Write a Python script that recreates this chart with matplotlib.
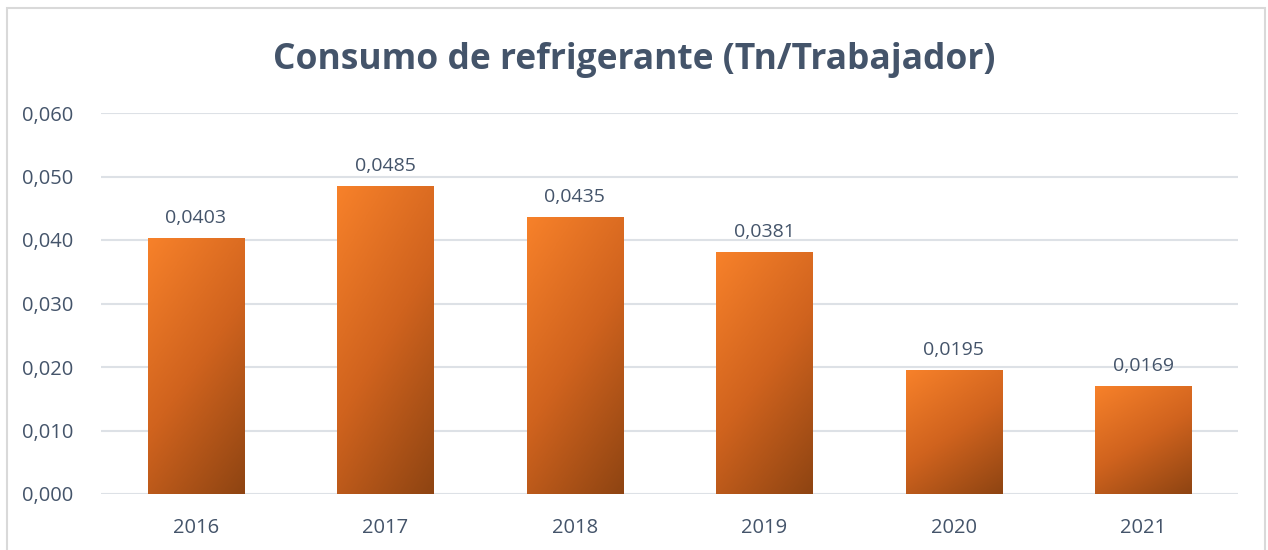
import numpy as np
import matplotlib
matplotlib.use("Agg")
import matplotlib.pyplot as plt
from matplotlib.colors import LinearSegmentedColormap
from matplotlib.patches import Rectangle

years = ["2016", "2017", "2018", "2019", "2020", "2021"]
values = [0.0403, 0.0485, 0.0435, 0.0381, 0.0195, 0.0169]
yticks = [0.0, 0.01, 0.02, 0.03, 0.04, 0.05, 0.06]

TEXT = "#44546A"
GRID = "#DDE1E6"
cmap = LinearSegmentedColormap.from_list("naranja", ["#F7812A", "#D0631E", "#8E4412"])

plt.rcParams["font.family"] = ["Open Sans", "DejaVu Sans"]

fig = plt.figure(figsize=(12.68, 5.5), dpi=100)
ax = fig.add_axes([101 / 1268, 56 / 550, 1137 / 1268, 381 / 550])

# marco del grafico
fig.patches.append(Rectangle((7 / 1268, -0.1), 1258 / 1268, 1.1 - 8 / 550,
                             transform=fig.transFigure, fill=False,
                             edgecolor="#D9D9D9", linewidth=1.5))

x = np.arange(len(years))
width = 0.507
bars = ax.bar(x, values, width=width, color="none", zorder=2)

# degradado diagonal dentro de cada barra (claro arriba-izq, oscuro abajo-der)
gx, gy = np.meshgrid(np.linspace(0, 1, 100), np.linspace(0, 1, 200))
grad = 0.35 * gx + 0.65 * gy
for b in bars:
    x0, y0 = b.get_x(), b.get_y()
    w, h = b.get_width(), b.get_height()
    ax.imshow(grad, cmap=cmap, extent=(x0, x0 + w, y0, y0 + h), origin="upper",
              aspect="auto", zorder=2, interpolation="bilinear")

for xi, v in zip(x, values):
    ax.text(xi, v + 0.0018, f"{v:.4f}".replace(".", ","), ha="center", va="bottom",
            fontsize=14, color=TEXT)

ax.set_xlim(-0.5, len(years) - 0.5)
ax.set_ylim(0, 0.06)
ax.set_yticks(yticks)
ax.set_yticklabels([f"{t:.3f}".replace(".", ",") for t in yticks])
ax.set_xticks(x)
ax.set_xticklabels(years)
ax.tick_params(length=0, labelsize=14.5, labelcolor=TEXT)
ax.tick_params(axis="y", pad=20)
ax.tick_params(axis="x", pad=17)
ax.grid(axis="y", color=GRID, linewidth=1.5, zorder=0)
ax.set_axisbelow(True)
for s in ax.spines.values():
    s.set_visible(False)

fig.text(0.5, 1 - 60 / 550, "Consumo de refrigerante (Tn/Trabajador)", ha="center",
         va="center", fontsize=25.5, fontweight="bold", color=TEXT)

fig.savefig("out.png", dpi=100)
